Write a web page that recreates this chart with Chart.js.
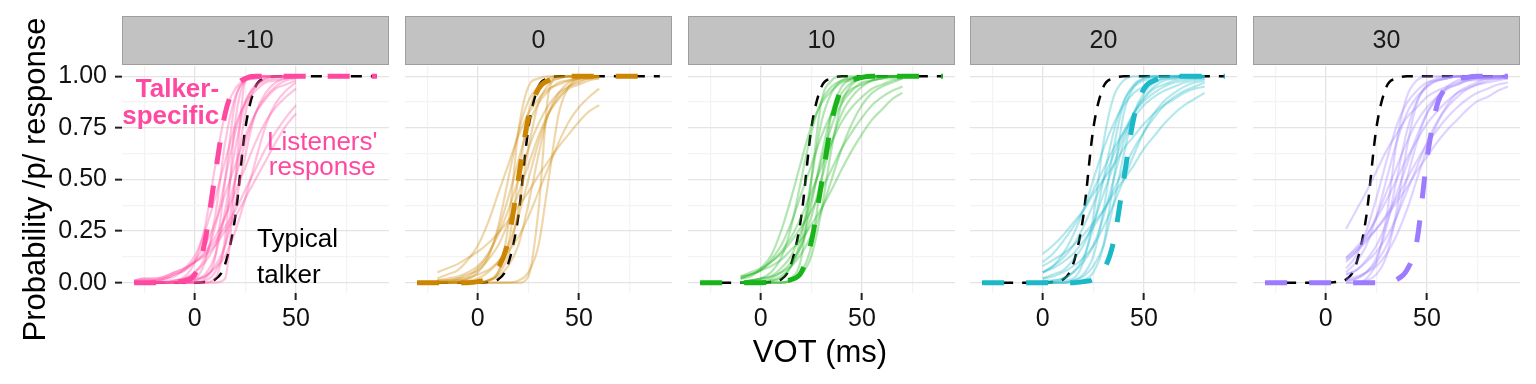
<!DOCTYPE html>
<html>
<head>
<meta charset="utf-8">
<script src="https://cdn.jsdelivr.net/npm/chart.js@4.4.1/dist/chart.umd.min.js"></script>
<style>
  html, body { margin: 0; padding: 0; background: #fff; }
  #wrap { position: relative; width: 1536px; height: 384px; }
  #wrap canvas { position: absolute; left: 0; top: 0; }
</style>
</head>
<body>
<div id="wrap"></div>
<script>
// facet labels
const panels = ['-10', '0', '10', '20', '30'];
const colors = ['#FF48A0', '#CC8500', '#19B419', '#1BB8C8', '#9D7BFF'];

// dashed curves (talker-specific and typical talker)
const talkerVot = [-30, -25, -20, -15, -10, -5, 0, 5, 10, 15, 20, 25, 30, 35, 40, 45, 50, 55, 60, 65, 70, 75, 80, 85, 90];
const typicalTalker = [0, 0, 0, 0, 0, 0, 0, 0.003, 0.015, 0.09, 0.32, 0.75, 0.95, 0.99, 1, 1, 1, 1, 1, 1, 1, 1, 1, 1, 1];
const talkerSpecific = [
  [0, 0, 0, 0, 0.003, 0.01, 0.04, 0.2, 0.52, 0.82, 0.95, 0.99, 1, 1, 1, 1, 1, 1, 1, 1, 1, 1, 1, 1, 1],
  [0, 0, 0, 0, 0, 0, 0.005, 0.02, 0.07, 0.2, 0.5, 0.8, 0.94, 0.98, 0.995, 1, 1, 1, 1, 1, 1, 1, 1, 1, 1],
  [0, 0, 0, 0, 0, 0, 0, 0.002, 0.008, 0.015, 0.05, 0.2, 0.48, 0.78, 0.94, 0.98, 0.995, 1, 1, 1, 1, 1, 1, 1, 1],
  [0, 0, 0, 0, 0, 0, 0, 0, 0, 0, 0.005, 0.015, 0.06, 0.2, 0.5, 0.8, 0.94, 0.98, 0.995, 1, 1, 1, 1, 1, 1],
  [0, 0, 0, 0, 0, 0, 0, 0, 0, 0, 0, 0, 0.003, 0.015, 0.06, 0.2, 0.6, 0.86, 0.95, 0.985, 0.995, 1, 1, 1, 1]
];

// listener curves: VOT values per panel, then one row per listener
const listenerVot = [
  [-30, -25, -20, -15, -10, -5, 0, 5, 10, 15, 20, 25, 30, 35, 40, 45, 50],
  [-20, -15, -10, -5, 0, 5, 10, 15, 20, 25, 30, 35, 40, 45, 50, 55, 60],
  [-10, -5, 0, 5, 10, 15, 20, 25, 30, 35, 40, 45, 50, 55, 60, 65, 70],
  [0, 5, 10, 15, 20, 25, 30, 35, 40, 45, 50, 55, 60, 65, 70, 75, 80],
  [10, 15, 20, 25, 30, 35, 40, 45, 50, 55, 60, 65, 70, 75, 80, 85, 90]
];

const listenersM10 = [
  [0, 0, 0, 0, 0.01, 0.03, 0.1, 0.27, 0.56, 0.82, 0.94, 0.98, 0.99, 1, 1, 1, 1],
  [0, 0, 0.01, 0.02, 0.03, 0.07, 0.13, 0.25, 0.41, 0.59, 0.76, 0.87, 0.93, 0.97, 0.98, 0.99, 1],
  [0, 0, 0, 0, 0, 0.01, 0.02, 0.1, 0.32, 0.68, 0.9, 0.98, 0.99, 1, 1, 1, 1],
  [0, 0, 0, 0, 0.01, 0.02, 0.05, 0.12, 0.27, 0.5, 0.73, 0.88, 0.95, 0.98, 0.99, 1, 1],
  [0, 0, 0, 0, 0, 0, 0, 0.02, 0.12, 0.5, 0.88, 0.98, 1, 1, 1, 1, 1],
  [0, 0.01, 0.01, 0.02, 0.04, 0.06, 0.11, 0.18, 0.29, 0.43, 0.57, 0.71, 0.82, 0.89, 0.94, 0.96, 0.98],
  [0, 0, 0, 0, 0, 0, 0.01, 0.04, 0.13, 0.35, 0.65, 0.87, 0.96, 0.99, 1, 1, 1],
  [0, 0, 0, 0, 0, 0, 0, 0, 0, 0.02, 0.5, 0.98, 1, 1, 1, 1, 1],
  [0, 0, 0, 0.01, 0.01, 0.02, 0.05, 0.1, 0.18, 0.32, 0.5, 0.68, 0.82, 0.9, 0.95, 0.98, 0.99],
  [0, 0, 0, 0, 0, 0, 0.01, 0.03, 0.08, 0.18, 0.38, 0.62, 0.82, 0.92, 0.97, 0.99, 1],
  [0.01, 0.01, 0.01, 0.02, 0.04, 0.06, 0.1, 0.15, 0.22, 0.32, 0.44, 0.56, 0.68, 0.78, 0.85, 0.9, 0.94],
  [0, 0, 0, 0, 0, 0.01, 0.02, 0.03, 0.07, 0.13, 0.25, 0.41, 0.59, 0.76, 0.87, 0.93, 0.97],
  [0.01, 0.02, 0.02, 0.03, 0.05, 0.07, 0.1, 0.14, 0.2, 0.27, 0.35, 0.45, 0.55, 0.65, 0.73, 0.8, 0.86],
  [0.01, 0.02, 0.02, 0.03, 0.05, 0.07, 0.1, 0.13, 0.18, 0.25, 0.32, 0.41, 0.5, 0.59, 0.68, 0.76, 0.82],
  [0, 0, 0, 0, 0, 0, 0, 0.01, 0.05, 0.18, 0.5, 0.82, 0.95, 0.99, 1, 1, 1],
  [0, 0, 0, 0, 0, 0, 0, 0, 0.02, 0.22, 0.78, 0.98, 1, 1, 1, 1, 1]
];

const listeners0 = [
  [0.02, 0.04, 0.06, 0.11, 0.18, 0.29, 0.43, 0.57, 0.71, 0.82, 0.89, 0.94, 0.96, 0.98, 0.99, 0.99, 1],
  [0.05, 0.07, 0.09, 0.12, 0.15, 0.19, 0.24, 0.3, 0.37, 0.44, 0.52, 0.59, 0.66, 0.72, 0.78, 0.83, 0.86],
  [0, 0, 0.01, 0.02, 0.05, 0.12, 0.27, 0.5, 0.73, 0.88, 0.95, 0.98, 0.99, 1, 1, 1, 1],
  [0, 0.01, 0.02, 0.03, 0.07, 0.13, 0.25, 0.41, 0.59, 0.76, 0.87, 0.93, 0.97, 0.98, 0.99, 1, 1],
  [0, 0, 0, 0, 0, 0.01, 0.05, 0.18, 0.5, 0.82, 0.95, 0.99, 1, 1, 1, 1, 1],
  [0.01, 0.02, 0.03, 0.05, 0.08, 0.14, 0.23, 0.35, 0.5, 0.65, 0.77, 0.86, 0.92, 0.95, 0.97, 0.99, 0.99],
  [0, 0, 0, 0, 0, 0.01, 0.04, 0.13, 0.35, 0.65, 0.87, 0.96, 0.99, 1, 1, 1, 1],
  [0, 0, 0.01, 0.01, 0.02, 0.05, 0.1, 0.18, 0.32, 0.5, 0.68, 0.82, 0.9, 0.95, 0.98, 0.99, 1],
  [0, 0, 0, 0, 0, 0, 0, 0, 0, 0.03, 0.35, 0.92, 1, 1, 1, 1, 1],
  [0, 0, 0, 0, 0, 0.01, 0.03, 0.08, 0.18, 0.38, 0.62, 0.82, 0.92, 0.97, 0.99, 1, 1],
  [0.01, 0.01, 0.01, 0.02, 0.04, 0.06, 0.1, 0.15, 0.22, 0.32, 0.44, 0.56, 0.68, 0.78, 0.85, 0.9, 0.94],
  [0, 0, 0, 0, 0, 0, 0, 0, 0.01, 0.05, 0.18, 0.5, 0.82, 0.95, 0.99, 1, 1],
  [0, 0, 0, 0, 0, 0.01, 0.05, 0.27, 0.73, 0.95, 0.99, 1, 1, 1, 1, 1, 1],
  [0.01, 0.01, 0.02, 0.04, 0.06, 0.11, 0.18, 0.29, 0.43, 0.57, 0.71, 0.82, 0.89, 0.94, 0.96, 0.98, 0.99]
];

const listeners10 = [
  [0.02, 0.03, 0.07, 0.13, 0.25, 0.41, 0.59, 0.76, 0.87, 0.93, 0.97, 0.98, 0.99, 1, 1, 1, 1],
  [0.02, 0.04, 0.06, 0.11, 0.18, 0.29, 0.43, 0.57, 0.71, 0.82, 0.89, 0.94, 0.96, 0.98, 0.99, 0.99, 1],
  [0, 0, 0, 0.01, 0.02, 0.08, 0.22, 0.5, 0.78, 0.92, 0.98, 0.99, 1, 1, 1, 1, 1],
  [0, 0, 0, 0.01, 0.03, 0.08, 0.18, 0.38, 0.62, 0.82, 0.92, 0.97, 0.99, 1, 1, 1, 1],
  [0.02, 0.04, 0.06, 0.1, 0.15, 0.22, 0.32, 0.44, 0.56, 0.68, 0.78, 0.85, 0.9, 0.94, 0.96, 0.98, 0.99],
  [0, 0, 0, 0, 0, 0.01, 0.05, 0.18, 0.5, 0.82, 0.95, 0.99, 1, 1, 1, 1, 1],
  [0, 0.01, 0.01, 0.02, 0.05, 0.1, 0.18, 0.32, 0.5, 0.68, 0.82, 0.9, 0.95, 0.98, 0.99, 1, 1],
  [0, 0, 0, 0, 0, 0.01, 0.04, 0.13, 0.35, 0.65, 0.87, 0.96, 0.99, 1, 1, 1, 1],
  [0.03, 0.05, 0.07, 0.1, 0.14, 0.2, 0.27, 0.35, 0.45, 0.55, 0.65, 0.73, 0.8, 0.86, 0.9, 0.93, 0.95],
  [0, 0.01, 0.02, 0.03, 0.05, 0.08, 0.14, 0.23, 0.35, 0.5, 0.65, 0.77, 0.86, 0.92, 0.95, 0.97, 0.99],
  [0.03, 0.04, 0.06, 0.08, 0.11, 0.16, 0.21, 0.28, 0.36, 0.45, 0.55, 0.64, 0.72, 0.79, 0.84, 0.89, 0.92],
  [0, 0, 0, 0, 0, 0.02, 0.12, 0.5, 0.88, 0.98, 1, 1, 1, 1, 1, 1, 1],
  [0, 0.01, 0.02, 0.05, 0.12, 0.27, 0.5, 0.73, 0.88, 0.95, 0.98, 0.99, 1, 1, 1, 1, 1],
  [0, 0.01, 0.02, 0.03, 0.07, 0.13, 0.25, 0.41, 0.59, 0.76, 0.87, 0.93, 0.97, 0.98, 0.99, 1, 1]
];

const listeners20 = [
  [0.05, 0.08, 0.14, 0.23, 0.35, 0.5, 0.65, 0.77, 0.86, 0.92, 0.95, 0.97, 0.99, 0.99, 1, 1, 1],
  [0.1, 0.14, 0.2, 0.27, 0.35, 0.45, 0.55, 0.65, 0.73, 0.8, 0.86, 0.9, 0.93, 0.95, 0.97, 0.98, 0.99],
  [0, 0.01, 0.02, 0.05, 0.12, 0.27, 0.5, 0.73, 0.88, 0.95, 0.98, 0.99, 1, 1, 1, 1, 1],
  [0.05, 0.08, 0.12, 0.18, 0.27, 0.38, 0.5, 0.62, 0.73, 0.82, 0.88, 0.92, 0.95, 0.97, 0.98, 0.99, 0.99],
  [0, 0, 0, 0.01, 0.04, 0.13, 0.35, 0.65, 0.87, 0.96, 0.99, 1, 1, 1, 1, 1, 1],
  [0.02, 0.04, 0.06, 0.11, 0.18, 0.29, 0.43, 0.57, 0.71, 0.82, 0.89, 0.94, 0.96, 0.98, 0.99, 0.99, 1],
  [0.01, 0.01, 0.02, 0.05, 0.1, 0.18, 0.32, 0.5, 0.68, 0.82, 0.9, 0.95, 0.98, 0.99, 1, 1, 1],
  [0, 0, 0, 0, 0.01, 0.05, 0.18, 0.5, 0.82, 0.95, 0.99, 1, 1, 1, 1, 1, 1],
  [0.05, 0.07, 0.1, 0.14, 0.2, 0.27, 0.35, 0.45, 0.55, 0.65, 0.73, 0.8, 0.86, 0.9, 0.93, 0.95, 0.97],
  [0, 0, 0, 0.01, 0.03, 0.08, 0.18, 0.38, 0.62, 0.82, 0.92, 0.97, 0.99, 1, 1, 1, 1],
  [0.02, 0.03, 0.05, 0.08, 0.12, 0.18, 0.27, 0.38, 0.5, 0.62, 0.73, 0.82, 0.88, 0.92, 0.95, 0.97, 0.98],
  [0, 0, 0.01, 0.02, 0.1, 0.32, 0.68, 0.9, 0.98, 1, 1, 1, 1, 1, 1, 1, 1],
  [0.14, 0.18, 0.23, 0.29, 0.35, 0.43, 0.5, 0.57, 0.65, 0.71, 0.77, 0.82, 0.86, 0.89, 0.92, 0.94, 0.95],
  [0.08, 0.11, 0.14, 0.18, 0.23, 0.29, 0.35, 0.43, 0.5, 0.57, 0.65, 0.71, 0.77, 0.82, 0.86, 0.89, 0.92]
];

const listeners30 = [
  [0.26, 0.35, 0.44, 0.54, 0.64, 0.72, 0.8, 0.85, 0.9, 0.93, 0.95, 0.97, 0.98, 0.98, 0.99, 0.99, 1],
  [0.05, 0.1, 0.18, 0.32, 0.5, 0.68, 0.82, 0.9, 0.95, 0.98, 0.99, 1, 1, 1, 1, 1, 1],
  [0.1, 0.15, 0.22, 0.32, 0.44, 0.56, 0.68, 0.78, 0.85, 0.9, 0.94, 0.96, 0.98, 0.99, 0.99, 1, 1],
  [0.01, 0.02, 0.05, 0.12, 0.27, 0.5, 0.73, 0.88, 0.95, 0.98, 0.99, 1, 1, 1, 1, 1, 1],
  [0.12, 0.17, 0.23, 0.31, 0.4, 0.5, 0.6, 0.69, 0.77, 0.83, 0.88, 0.92, 0.94, 0.96, 0.97, 0.98, 0.99],
  [0.04, 0.06, 0.11, 0.18, 0.29, 0.43, 0.57, 0.71, 0.82, 0.89, 0.94, 0.96, 0.98, 0.99, 0.99, 1, 1],
  [0, 0, 0.01, 0.04, 0.13, 0.35, 0.65, 0.87, 0.96, 0.99, 1, 1, 1, 1, 1, 1, 1],
  [0.01, 0.02, 0.05, 0.1, 0.18, 0.32, 0.5, 0.68, 0.82, 0.9, 0.95, 0.98, 0.99, 1, 1, 1, 1],
  [0.11, 0.15, 0.2, 0.26, 0.33, 0.41, 0.5, 0.59, 0.67, 0.74, 0.8, 0.85, 0.89, 0.92, 0.94, 0.96, 0.97],
  [0.04, 0.06, 0.1, 0.15, 0.22, 0.32, 0.44, 0.56, 0.68, 0.78, 0.85, 0.9, 0.94, 0.96, 0.98, 0.99, 0.99],
  [0.12, 0.16, 0.21, 0.26, 0.32, 0.39, 0.46, 0.54, 0.61, 0.68, 0.74, 0.79, 0.84, 0.88, 0.9, 0.93, 0.95],
  [0, 0, 0.02, 0.1, 0.32, 0.68, 0.9, 0.98, 1, 1, 1, 1, 1, 1, 1, 1, 1],
  [0.07, 0.13, 0.25, 0.41, 0.59, 0.76, 0.87, 0.93, 0.97, 0.98, 0.99, 1, 1, 1, 1, 1, 1],
  [0.02, 0.03, 0.05, 0.08, 0.14, 0.23, 0.35, 0.5, 0.65, 0.77, 0.86, 0.92, 0.95, 0.97, 0.99, 0.99, 1]
];

const listenerSets = [listenersM10, listeners0, listeners10, listeners20, listeners30];

// layout (px)
const panelLeft = [122, 405, 688, 970, 1253];
const panelWidth = 267;
const plotTop = 66, plotBottom = 293;
const FONT = '"Liberation Sans", Arial, Helvetica, sans-serif';

function toXY(xs, ys) {
  return xs.map((x, i) => ({ x: x, y: ys[i] }));
}

function rgba(hex, a) {
  const n = parseInt(hex.slice(1), 16);
  return `rgba(${(n >> 16) & 255},${(n >> 8) & 255},${n & 255},${a})`;
}

function isMajor(v, step) {
  return Math.abs(v / step - Math.round(v / step)) < 1e-6;
}

// grey facet strip above each panel
const stripPlugin = {
  id: 'strip',
  afterDraw(chart, args, opts) {
    const { ctx, chartArea } = chart;
    ctx.save();
    ctx.fillStyle = '#C2C2C2';
    ctx.fillRect(chartArea.left, 16, chartArea.width, 49);
    ctx.strokeStyle = '#9E9E9E';
    ctx.lineWidth = 1;
    ctx.strokeRect(chartArea.left + 0.5, 16.5, chartArea.width - 1, 48);
    ctx.fillStyle = '#1A1A1A';
    ctx.font = '25px ' + FONT;
    ctx.textAlign = 'center';
    ctx.textBaseline = 'middle';
    ctx.fillText(opts.label, (chartArea.left + chartArea.right) / 2, 41);
    ctx.restore();
  }
};

// text labels in the first panel + shared axis titles
const notes = [
  { text: 'Talker-', x: 12, y: 0.899, align: 'right', bold: true, color: colors[0] },
  { text: 'specific', x: 12, y: 0.768, align: 'right', bold: true, color: colors[0] },
  { text: "Listeners'", x: 63, y: 0.643, align: 'center', bold: false, color: colors[0] },
  { text: 'response', x: 63, y: 0.524, align: 'center', bold: false, color: colors[0] },
  { text: 'Typical', x: 30.8, y: 0.171, align: 'left', bold: false, color: '#000' },
  { text: 'talker', x: 30.8, y: 0.0, align: 'left', bold: false, color: '#000' }
];

const notesPlugin = {
  id: 'notes',
  afterDraw(chart) {
    const { ctx, scales } = chart;
    ctx.save();
    ctx.textBaseline = 'alphabetic';
    notes.forEach(n => {
      ctx.font = (n.bold ? 'bold ' : '') + '26px ' + FONT;
      ctx.fillStyle = n.color;
      ctx.textAlign = n.align;
      ctx.fillText(n.text, scales.x.getPixelForValue(n.x), scales.y.getPixelForValue(n.y));
    });
    ctx.fillStyle = '#000';
    ctx.font = '31px ' + FONT;
    ctx.textAlign = 'center';
    ctx.textBaseline = 'middle';
    ctx.fillText('VOT (ms)', 820, 353);
    ctx.translate(36, (plotTop + plotBottom) / 2);
    ctx.rotate(-Math.PI / 2);
    ctx.fillText('Probability /p/ response', 0, 0);
    ctx.restore();
  }
};

const wrap = document.getElementById('wrap');

panels.forEach((label, i) => {
  const canvas = document.createElement('canvas');
  canvas.width = 1536;
  canvas.height = 384;
  wrap.appendChild(canvas);

  // first dataset is drawn on top
  const datasets = [];
  datasets.push({
    data: toXY(talkerVot, talkerSpecific[i]),
    borderColor: colors[i], borderWidth: 5, borderDash: [22, 22]
  });
  listenerSets[i].forEach(ys => {
    datasets.push({
      data: toXY(listenerVot[i], ys),
      borderColor: rgba(colors[i], 0.33), borderWidth: 2.2
    });
  });
  datasets.push({
    data: toXY(talkerVot, typicalTalker),
    borderColor: '#000', borderWidth: 2.5, borderDash: [11, 9]
  });

  const first = i === 0;
  const yW = first ? 90 : 20;
  new Chart(canvas, {
    type: 'line',
    data: { datasets },
    options: {
      responsive: false,
      animation: false,
      events: [],
      layout: {
        padding: { left: panelLeft[i] - yW, right: 1536 - panelLeft[i] - panelWidth, top: plotTop, bottom: 384 - plotBottom - 60 }
      },
      elements: {
        point: { radius: 0 },
        line: { cubicInterpolationMode: 'monotone', borderCapStyle: 'butt', borderJoinStyle: 'round', fill: false }
      },
      plugins: {
        legend: { display: false },
        tooltip: { enabled: false },
        strip: { label: label }
      },
      scales: {
        x: {
          type: 'linear', min: -36, max: 96,
          afterFit: s => { s.height = 60; },
          border: { display: false },
          grid: {
            color: c => isMajor(c.tick.value, 50) ? '#E4E4E4' : '#F3F3F3',
            lineWidth: 1.3,
            tickLength: 7,
            tickWidth: 2,
            tickColor: c => isMajor(c.tick.value, 50) ? '#222' : 'rgba(0,0,0,0)'
          },
          ticks: {
            stepSize: 25, includeBounds: false, autoSkip: false, maxRotation: 0,
            padding: 4, color: '#111', font: { family: FONT, size: 25 },
            callback: v => isMajor(v, 50) ? String(v) : ''
          }
        },
        y: {
          min: -0.05, max: 1.05,
          afterFit: s => { s.width = yW; },
          border: { display: false },
          grid: {
            color: c => isMajor(c.tick.value, 0.25) ? '#E4E4E4' : '#F3F3F3',
            lineWidth: 1.3,
            tickLength: 7,
            tickWidth: 2,
            tickColor: c => (first && isMajor(c.tick.value, 0.25)) ? '#222' : 'rgba(0,0,0,0)'
          },
          ticks: {
            stepSize: 0.125, includeBounds: false, autoSkip: false,
            padding: 8, color: '#111', font: { family: FONT, size: 25 },
            display: first,
            callback: v => isMajor(v, 0.25) ? v.toFixed(2) : ''
          }
        }
      }
    },
    plugins: first ? [stripPlugin, notesPlugin] : [stripPlugin]
  });
});
</script>
</body>
</html>
